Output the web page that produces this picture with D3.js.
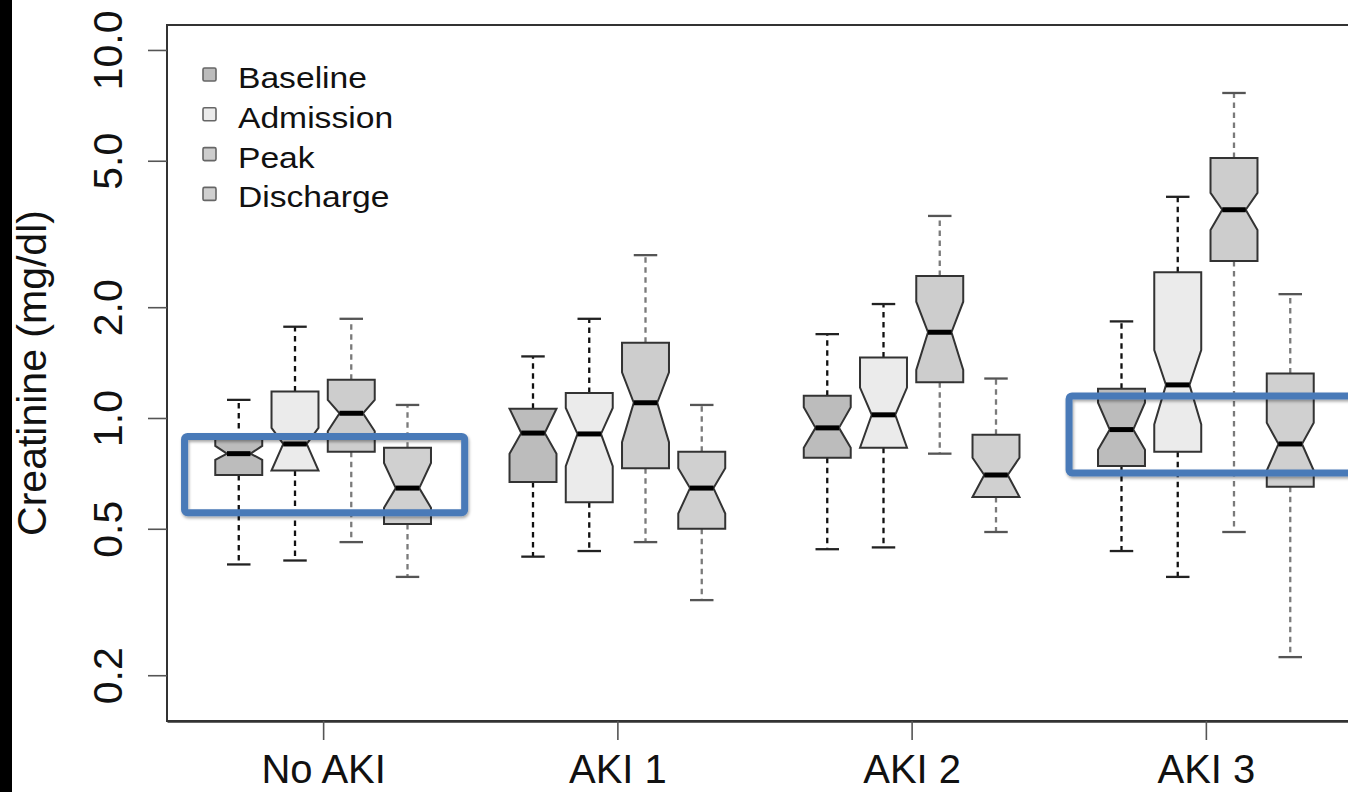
<!DOCTYPE html>
<html><head><meta charset="utf-8">
<script src="https://cdn.jsdelivr.net/npm/d3@7/dist/d3.min.js"></script>
<style>
html,body{margin:0;padding:0;background:#fff;}
svg{display:block;}
text{font-family:"Liberation Sans",Arial,Helvetica,sans-serif;fill:#111;}
</style></head>
<body>
<svg id="chart" width="1348" height="792"></svg>
<script>
// ---------- data ----------
const groups = ["No AKI", "AKI 1", "AKI 2", "AKI 3"];
const series = ["Baseline", "Admission", "Peak", "Discharge"];
// each entry: [lower whisker, Q1, notch low, median, notch high, Q3, upper whisker]
const baseline = [
  [0.40, 0.70, 0.77, 0.80, 0.84, 0.88, 1.12],
  [0.42, 0.67, 0.80, 0.91, 1.06, 1.06, 1.47],
  [0.44, 0.78, 0.83, 0.94, 1.07, 1.15, 1.69],
  [0.435, 0.74, 0.82, 0.93, 1.10, 1.20, 1.83]
];
const admission = [
  [0.41, 0.72, 0.72, 0.85, 0.94, 1.18, 1.77],
  [0.435, 0.59, 0.74, 0.905, 1.065, 1.17, 1.86],
  [0.445, 0.83, 0.83, 1.02, 1.21, 1.46, 2.04],
  [0.37, 0.81, 0.96, 1.23, 1.53, 2.49, 3.99]
];
const peak = [
  [0.46, 0.81, 0.92, 1.03, 1.12, 1.27, 1.86],
  [0.46, 0.73, 0.86, 1.10, 1.33, 1.60, 2.77],
  [0.80, 1.25, 1.35, 1.71, 2.07, 2.43, 3.54],
  [0.49, 2.67, 3.24, 3.68, 4.09, 5.09, 7.64]
];
const discharge = [
  [0.37, 0.515, 0.57, 0.645, 0.755, 0.83, 1.085],
  [0.32, 0.50, 0.55, 0.645, 0.73, 0.81, 1.085],
  [0.49, 0.61, 0.61, 0.70, 0.78, 0.90, 1.28],
  [0.224, 0.65, 0.72, 0.85, 0.97, 1.32, 2.17]
];
const yTicks = [0.2, 0.5, 1.0, 2.0, 5.0, 10.0];
const yTitle = "Creatinine (mg/dl)";
// highlight boxes (annotation), in group-index / value units
const highlightX = [[-0.471, 0.481], [2.535, 3.8]];
const highlightY = [[0.553, 0.891], [0.709, 1.148]];

// ---------- styles ----------
const fills = {Baseline: "#bcbcbc", Admission: "#ebebeb", Peak: "#cdcdcd", Discharge: "#d0d0d0"};
const whiskerCol = {Baseline: "#111", Admission: "#111", Peak: "#7a7a7a", Discharge: "#7a7a7a"};
const stapleCol = {Baseline: "#222", Admission: "#222", Peak: "#555", Discharge: "#555"};

const stats = {Baseline: baseline, Admission: admission, Peak: peak, Discharge: discharge};

const svg = d3.select("#chart");
const pL = 167, pR = 1362, pT = 25, pB = 721;

// black strip at left edge
svg.append("rect").attr("x", 0).attr("y", 0).attr("width", 12).attr("height", 792).attr("fill", "#000");

const x = d3.scaleLinear().domain([-0.5306, 3.5306]).range([pL, pR]);
const inner = d3.scaleBand().domain(series).range([-112.5, 112.5]).paddingInner(0.165).paddingOuter(0.0825);
const y = d3.scaleLog().domain([0.1502, 11.69]).range([pB, pT]);

const defs = svg.append("defs");
const f = defs.append("filter").attr("id", "sh").attr("x", "-10%").attr("y", "-20%").attr("width", "120%").attr("height", "140%");
f.append("feDropShadow").attr("dx", 1).attr("dy", 2).attr("stdDeviation", 1.5).attr("flood-color", "#000").attr("flood-opacity", 0.35);

// boxes
const plot = svg.append("g");
series.forEach(s => {
  stats[s].forEach((d, gi) => {
    const [lo, q1, nLo0, med, nHi0, q3, hi] = d;
    const nLo = Math.max(nLo0, q1), nHi = Math.min(nHi0, q3);
    const w = inner.bandwidth();
    const cx = x(gi) + inner(s) + w / 2;
    const L = cx - w / 2, R = cx + w / 2, ins = w / 4;
    const g = plot.append("g");
    g.append("line").attr("x1", cx).attr("x2", cx).attr("y1", y(q3)).attr("y2", y(hi))
      .attr("stroke", whiskerCol[s]).attr("stroke-width", 2.3).attr("stroke-dasharray", "5.5,4.5");
    g.append("line").attr("x1", cx).attr("x2", cx).attr("y1", y(q1)).attr("y2", y(lo))
      .attr("stroke", whiskerCol[s]).attr("stroke-width", 2.3).attr("stroke-dasharray", "5.5,4.5");
    [lo, hi].forEach(v => {
      g.append("line").attr("x1", cx - w / 4).attr("x2", cx + w / 4).attr("y1", y(v)).attr("y2", y(v))
        .attr("stroke", stapleCol[s]).attr("stroke-width", 2.3);
    });
    const pts = [[L, y(q1)], [L, y(nLo)], [L + ins, y(med)], [L, y(nHi)], [L, y(q3)],
                 [R, y(q3)], [R, y(nHi)], [R - ins, y(med)], [R, y(nLo)], [R, y(q1)]];
    g.append("polygon").attr("points", pts.map(p => p.join(",")).join(" "))
      .attr("fill", fills[s]).attr("stroke", "#333").attr("stroke-width", 2).attr("stroke-linejoin", "miter");
    g.append("line").attr("x1", L + ins).attr("x2", R - ins).attr("y1", y(med)).attr("y2", y(med))
      .attr("stroke", "#000").attr("stroke-width", 5);
  });
});

// frame
svg.append("rect").attr("x", pL).attr("y", pT).attr("width", pR - pL).attr("height", pB - pT)
  .attr("fill", "none").attr("stroke", "#333").attr("stroke-width", 2);

// y axis
const yAxis = svg.append("g").attr("transform", `translate(${pL},0)`)
  .call(d3.axisLeft(y).tickValues(yTicks).tickFormat(d3.format(".1f")).tickSize(19));
yAxis.select(".domain").remove();
yAxis.selectAll(".tick line").attr("stroke", "#555").attr("stroke-width", 1.6);
yAxis.selectAll(".tick text").attr("transform", "rotate(-90)").attr("x", 0).attr("y", -45).attr("dy", 0)
  .attr("text-anchor", "middle").style("font-size", "41px").attr("fill", "#111");

// x axis
const xAxis = svg.append("g").attr("transform", `translate(0,${pB})`)
  .call(d3.axisBottom(x).tickValues([0, 1, 2, 3]).tickFormat(i => groups[i]).tickSize(19).tickSizeOuter(0));
xAxis.select(".domain").attr("stroke", "#333").attr("stroke-width", 2.5);
xAxis.selectAll(".tick line").attr("stroke", "#555").attr("stroke-width", 1.6);
xAxis.selectAll(".tick text").attr("y", 62).attr("dy", 0).style("font-size", "40px").attr("fill", "#111");

// y title
svg.append("text").attr("transform", `translate(46,${(pT + pB) / 2}) rotate(-90)`)
  .attr("text-anchor", "middle").style("font-size", "41px").text(yTitle);

// legend
const leg = svg.append("g");
series.forEach((s, i) => {
  const by = 88 + i * 39.8;
  leg.append("rect").attr("x", 203).attr("y", by - 20).attr("width", 13).attr("height", 13)
    .attr("fill", fills[s]).attr("stroke", "#666").attr("stroke-width", 1.6).attr("rx", 1.5);
  leg.append("text").attr("transform", `translate(238,${by}) scale(1.14,1)`)
    .style("font-size", "29.5px").text(s);
});

// highlight boxes
highlightX.forEach((hx, i) => {
  const hy = highlightY[i];
  svg.append("rect").attr("x", x(hx[0])).attr("y", y(hy[1]))
    .attr("width", x(hx[1]) - x(hx[0])).attr("height", y(hy[0]) - y(hy[1]))
    .attr("fill", "none").attr("stroke", "#4a7ab8").attr("stroke-width", 7).attr("rx", 3)
    .attr("filter", "url(#sh)");
});
</script>
</body></html>
